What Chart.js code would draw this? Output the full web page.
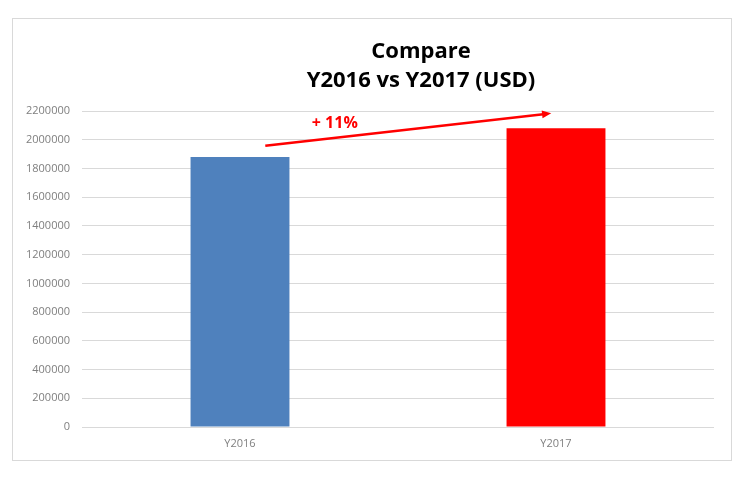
<!DOCTYPE html>
<html>
<head>
<meta charset="utf-8">
<script src="https://cdn.jsdelivr.net/npm/chart.js@4"></script>
<style>
  html, body { margin: 0; padding: 0; background: #fff; }
  #wrap { width: 738px; height: 478px; }
</style>
</head>
<body>
<div id="wrap"><canvas id="cmpChart"></canvas></div>
<script>
// Data
const categories = ['Y2016', 'Y2017'];
const totals = [1880000, 2080000];
const barColors = ['#4f81bd', '#ff0000'];
const titleLines = ['Compare', 'Y2016 vs Y2017 (USD)'];
const yMax = 2200000;
const yStep = 200000;

// Growth arrow, in data terms (category index, value)
const arrowFrom = [0.08, 1958000];
const arrowTo = [0.985, 2184000];
const growthLabel = '+ 11%';
const growthAt = [0.3, 2116000];

// Frame, title and growth arrow
const decorations = {
  id: 'decorations',
  beforeDraw(chart) {
    const ctx = chart.ctx;
    ctx.save();
    ctx.fillStyle = '#fff';
    ctx.fillRect(0, 0, chart.width, chart.height);
    ctx.strokeStyle = '#d9d9d9';
    ctx.lineWidth = 1;
    ctx.strokeRect(12.5, 18.5, 719, 442);
    ctx.restore();
  },
  afterDatasetsDraw(chart) {
    const ctx = chart.ctx;
    const x = chart.scales.x;
    const y = chart.scales.y;
    ctx.save();

    // title
    ctx.fillStyle = '#000';
    ctx.font = 'bold 22px "Open Sans"';
    ctx.textAlign = 'center';
    ctx.textBaseline = 'alphabetic';
    ctx.fillText(titleLines[0], 421, 58);
    ctx.fillText(titleLines[1], 421, 87);

    // arrow
    const x1 = x.getPixelForValue(arrowFrom[0]);
    const y1 = y.getPixelForValue(arrowFrom[1]);
    const x2 = x.getPixelForValue(arrowTo[0]);
    const y2 = y.getPixelForValue(arrowTo[1]);
    const ang = Math.atan2(y2 - y1, x2 - x1);
    const head = 10;
    ctx.strokeStyle = '#ff0000';
    ctx.fillStyle = '#ff0000';
    ctx.lineWidth = 2.5;
    ctx.beginPath();
    ctx.moveTo(x1, y1);
    ctx.lineTo(x2 - head * 0.8 * Math.cos(ang), y2 - head * 0.8 * Math.sin(ang));
    ctx.stroke();
    ctx.beginPath();
    ctx.moveTo(x2, y2);
    ctx.lineTo(x2 - head * Math.cos(ang - 0.4), y2 - head * Math.sin(ang - 0.4));
    ctx.lineTo(x2 - head * Math.cos(ang + 0.4), y2 - head * Math.sin(ang + 0.4));
    ctx.closePath();
    ctx.fill();

    // label
    ctx.font = 'bold 16px "Open Sans"';
    ctx.textBaseline = 'middle';
    ctx.fillText(growthLabel, x.getPixelForValue(growthAt[0]), y.getPixelForValue(growthAt[1]));
    ctx.restore();
  }
};

new Chart(document.getElementById('cmpChart'), {
  type: 'bar',
  data: {
    labels: categories,
    datasets: [{
      data: totals,
      backgroundColor: barColors,
      borderWidth: 0,
      barPercentage: 0.313,
      categoryPercentage: 1
    }]
  },
  options: {
    responsive: true,
    maintainAspectRatio: false,
    animation: false,
    layout: { padding: { left: 12, right: 24, top: 111, bottom: 31 } },
    plugins: {
      legend: { display: false },
      title: { display: false },
      tooltip: { enabled: false }
    },
    scales: {
      x: {
        grid: { display: false, drawTicks: false },
        border: { display: false },
        ticks: { color: '#7f7f7f', font: { family: 'Open Sans', size: 11 }, padding: 10 },
        afterFit(s) { s.height = 20; }
      },
      y: {
        min: 0,
        max: yMax,
        grid: { color: '#d9d9d9', lineWidth: 1, drawTicks: false },
        border: { display: false },
        ticks: {
          stepSize: yStep,
          color: '#7f7f7f',
          font: { family: 'Open Sans', size: 11 },
          padding: 12,
          callback: v => String(v)
        },
        afterFit(s) { s.width = 70; }
      }
    }
  },
  plugins: [decorations]
});
</script>
</body>
</html>
